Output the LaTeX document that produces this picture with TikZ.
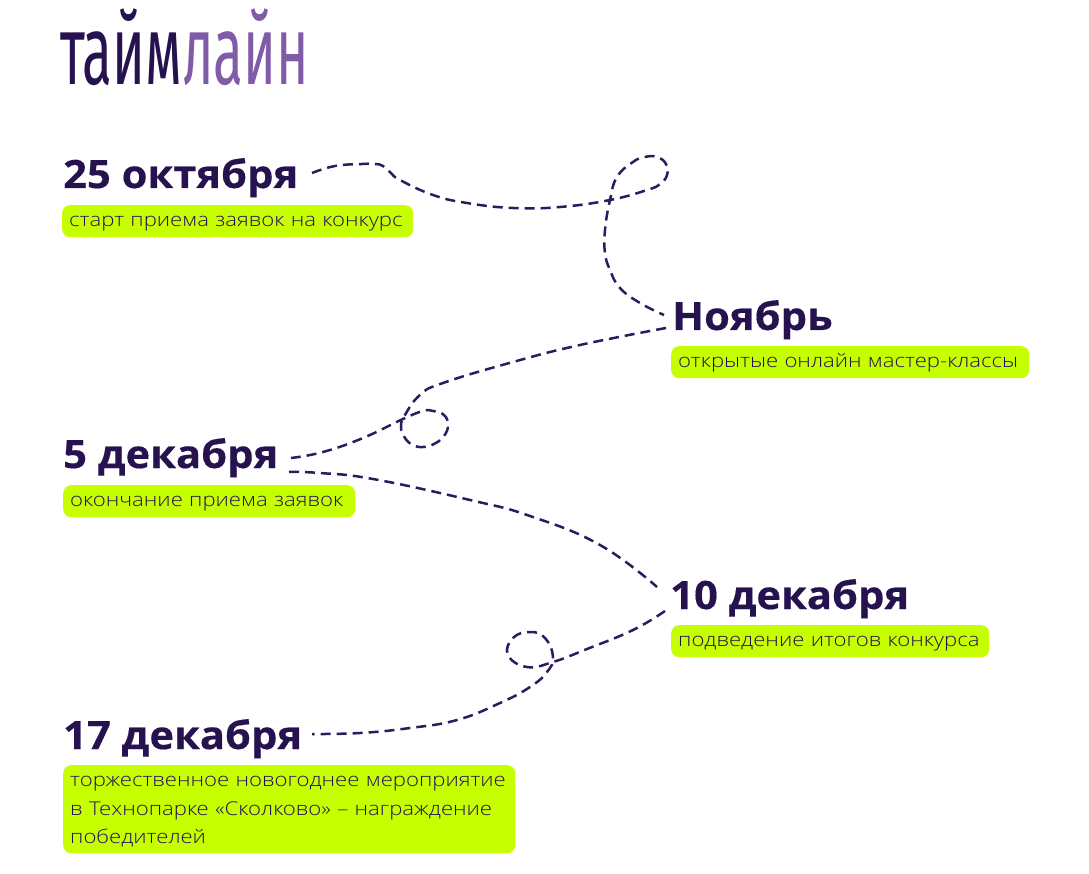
\documentclass[tikz,border=0pt]{standalone}
\usepackage{fontspec}
\setmainfont[FakeStretch=1.165]{Open Sans Light}
\newfontfamily\datefont[FakeStretch=1.07,FakeBold=0.4]{Open Sans}
\newfontfamily\logofont[FakeStretch=0.56]{Fira Sans}
\usetikzlibrary{positioning}
\definecolor{ink}{HTML}{26124F}
\definecolor{trailcol}{HTML}{2E1A5E}
\definecolor{lime}{HTML}{C6FF00}
\definecolor{violet}{HTML}{7F5BA8}
\tikzset{
  datelabel/.style={anchor=base west, inner sep=0pt, text=ink, font=\fontsize{39}{39}\selectfont\datefont\bfseries},
  chip/.style={fill=lime, rounded corners=8pt, inner xsep=7pt, inner ysep=0pt, align=left, text=ink, minimum height=32pt, font=\fontsize{19}{28.5}\selectfont, execute at begin node={\rule{0pt}{16pt}}},
  trail/.style={trailcol, line width=2.5pt, dash pattern=on 10pt off 6pt, line cap=butt, smooth, tension=0.75}
}
\begin{document}
\begin{tikzpicture}[x=1pt, y=-1pt]
  \useasboundingbox (0,0) rectangle (1089,874);
  \node[anchor=base west, inner sep=0pt, text=ink, font=\fontsize{98}{98}\selectfont\logofont] (logo) at (60,85) {тайм\textcolor{violet}{лайн}};

  \node[datelabel] (oct) at (63,188) {25 октября};
  \node[chip, text width=337pt, below=17pt of oct.base west, anchor=north west, xshift=-1pt] (octnote) {старт приема заявок на конкурс};
  \node[datelabel] (nov) at (672,330) {Ноябрь};
  \node[chip, text width=344pt, below=16pt of nov.base west, anchor=north west, xshift=-1pt] (novnote) {открытые онлайн мастер-классы};
  \node[datelabel] (dec5) at (63,468) {5 декабря};
  \node[chip, text width=278pt, below=17pt of dec5.base west, anchor=north west] (dec5note) {окончание приема заявок};
  \node[datelabel] (dec10) at (670,609) {10 декабря};
  \node[chip, text width=304pt, below=16pt of dec10.base west, anchor=north west, xshift=1pt] (dec10note) {подведение итогов конкурса};
  \node[datelabel] (dec17) at (63,749) {17 декабря};
  \node[chip, text width=438pt, minimum height=88pt, below=16pt of dec17.base west, anchor=north west] (dec17note) {\mbox{торжественное новогоднее мероприятие}\\в Технопарке «Сколково» – награждение\\победителей};

  % free ends of the trails, next to the dates
  \coordinate (octout) at (312,173);
  \coordinate (novin) at (664,315);
  \coordinate (novout) at (666,328);
  \coordinate (dec5in) at (291,458);
  \coordinate (dec5out) at (289,472);
  \coordinate (dec10in) at (657,587);
  \coordinate (dec10out) at (665,611);
  \coordinate (dec17in) at (312,734);

  % loops between the dates
  \draw[trail] plot coordinates {(octout) (335,166) (362,164) (375,164) (383,166) (391,173) (400,180) (433,195) (467,203) (513,208) (560,207) (610,200) (647,190) (660,184) (667,175) (666,164) (657,157) (645,157) (633,162) (617,177) (610,200) (605,230) (605,253) (610,270) (620,288) (640,303) (novin)};
  \draw[trail] plot coordinates {(novout) (580,345) (513,362) (443,383) (420,395) (405,415) (401,427) (405,438) (413,445) (423,447) (434,444) (444,436) (448,425) (444,415) (433,411) (423,411) (403,419) (363,438) (323,452) (dec5in)};
  \draw[trail] plot coordinates {(dec5out) (320,473) (373,479) (470,500) (530,516) (600,545) (dec10in)};
  \draw[trail] plot coordinates {(dec10out) (633,630) (587,649) (553,662) (527,667) (508,655) (513,638) (530,632) (545,638) (553,657) (547,672) (530,687) (500,703) (457,720) (410,728) (360,733) (dec17in)};
\end{tikzpicture}
\end{document}
